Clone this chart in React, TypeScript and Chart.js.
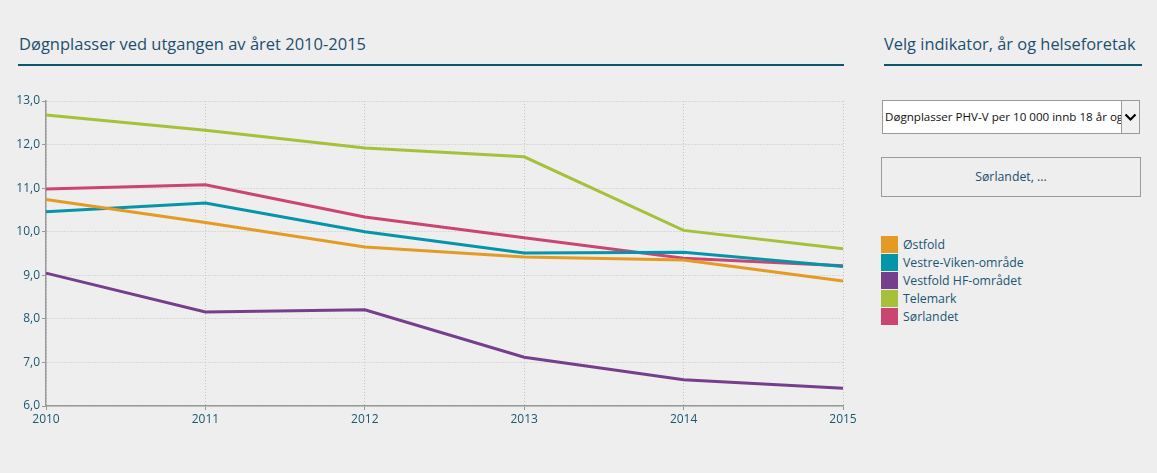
import React, { useEffect, useRef } from "react";
import { Chart, registerables } from "chart.js";

Chart.register(...registerables);

const years = ["2010", "2011", "2012", "2013", "2014", "2015"];
const seriesNames = ["Østfold", "Vestre-Viken-område", "Vestfold HF-området", "Telemark", "Sørlandet"];
const seriesColors = ["#E39B24", "#0595A9", "#763F8C", "#A4C139", "#CA4571"];
const ostfold = [10.74, 10.21, 9.65, 9.42, 9.35, 8.87];
const vestreViken = [10.46, 10.66, 10.0, 9.51, 9.53, 9.2];
const vestfold = [9.05, 8.16, 8.21, 7.12, 6.6, 6.41];
const telemark = [12.68, 12.33, 11.92, 11.72, 10.03, 9.61];
const sorlandet = [10.98, 11.08, 10.34, 9.86, 9.39, 9.22];
const seriesValues = [ostfold, vestreViken, vestfold, telemark, sorlandet];
const yMin = 6;
const yMax = 13;

const FONT = "'Open Sans', 'Noto Sans', sans-serif";
const TEXT = "#1b5672";

export default function App() {
  const ref = useRef<HTMLCanvasElement>(null);
  useEffect(() => {
    if (!ref.current) return;
    const chart = new Chart(ref.current, {
      type: "line",
      data: {
        labels: years,
        datasets: seriesNames.map((n, i) => ({
          label: n,
          data: seriesValues[i],
          borderColor: seriesColors[i],
          backgroundColor: seriesColors[i],
          borderWidth: 3,
          pointRadius: 0,
          tension: 0,
          fill: false,
        })),
      },
      options: {
        animation: false,
        responsive: false,
        maintainAspectRatio: false,
        layout: { padding: { top: 11, right: 17, left: 0, bottom: 0 } },
        plugins: { legend: { display: false }, tooltip: { enabled: false } },
        scales: {
          x: {
            type: "category",
            offset: false,
            grid: { color: "#c4c4c4", lineWidth: 1, tickLength: 4, tickColor: "#999", drawTicks: true },
            border: { display: true, color: "#999", width: 1.5, dash: [1, 2] },
            ticks: { color: TEXT, font: { family: FONT, size: 12 }, padding: 2, maxRotation: 0 },
            afterFit: (s: any) => { s.height = 34; },
          },
          y: {
            min: yMin,
            max: yMax,
            grid: { color: "#c4c4c4", lineWidth: 1, tickLength: 4, tickColor: "#999" },
            border: { display: true, color: "#999", width: 1.5, dash: [1, 2] },
            ticks: {
              stepSize: 1,
              color: TEXT,
              font: { family: FONT, size: 12 },
              padding: 2,
              callback: (v: any) => Number(v).toFixed(1).replace(".", ","),
            },
            afterFit: (s: any) => { s.width = 46; },
          },
        },
      },
    });
    return () => chart.destroy();
  }, []);

  return (
    <div style={{ position: "fixed", left: 0, top: 0, width: 1157, height: 473, background: "#eeeeee", fontFamily: FONT, overflow: "hidden" }}>
      <div style={{ position: "absolute", left: 19, top: 32, fontSize: 16.5, color: "#1f4e6e", whiteSpace: "nowrap" }}>
        Døgnplasser ved utgangen av året 2010-2015
      </div>
      <div style={{ position: "absolute", left: 18, top: 64, width: 826, height: 2, background: "#0e5670" }} />
      <canvas ref={ref} width={860} height={350} style={{ position: "absolute", left: 0, top: 90, width: 860, height: 350 }} />

      <div style={{ position: "absolute", left: 884, top: 32, fontSize: 16.4, color: "#1f4e6e", whiteSpace: "nowrap" }}>
        Velg indikator, år og helseforetak
      </div>
      <div style={{ position: "absolute", left: 884, top: 64, width: 258, height: 2, background: "#0e5670" }} />

      <div style={{ position: "absolute", left: 882, top: 100, width: 258, height: 34, background: "#fff", border: "1px solid #9a9a9a", boxSizing: "border-box" }}>
        <div style={{ position: "absolute", left: 2, top: 0, width: 236, height: 32, lineHeight: "32px", fontSize: 11.6, color: "#111", whiteSpace: "nowrap", overflow: "hidden" }}>
          Døgnplasser PHV-V per 10 000 innb 18 år og over
        </div>
        <div style={{ position: "absolute", right: -1, top: -1, width: 19, height: 34, background: "#f0f0f0", border: "1px solid #9a9a9a", boxSizing: "border-box" }}>
          <svg width="17" height="32" viewBox="0 0 17 32" style={{ position: "absolute", left: 0, top: 0 }}>
            <polyline points="3.5,13.5 8.5,18.5 13.5,13.5" fill="none" stroke="#000" strokeWidth="2.2" />
          </svg>
        </div>
      </div>

      <div style={{ position: "absolute", left: 881, top: 157, width: 260, height: 40, border: "1px solid #9a9a9a", boxSizing: "border-box", textAlign: "center", lineHeight: "38px", fontSize: 12.3, color: "#1f4e6e" }}>
        Sørlandet, ...
      </div>

      {seriesNames.map((n, i) => (
        <div key={n} style={{ position: "absolute", left: 881, top: 236 + i * 18, height: 17, whiteSpace: "nowrap" }}>
          <div style={{ position: "absolute", left: 0, top: 0, width: 17, height: 17, background: seriesColors[i] }} />
          <div style={{ position: "absolute", left: 22, top: 0, lineHeight: "17px", fontSize: 12.3, color: TEXT }}>{n}</div>
        </div>
      ))}
    </div>
  );
}
